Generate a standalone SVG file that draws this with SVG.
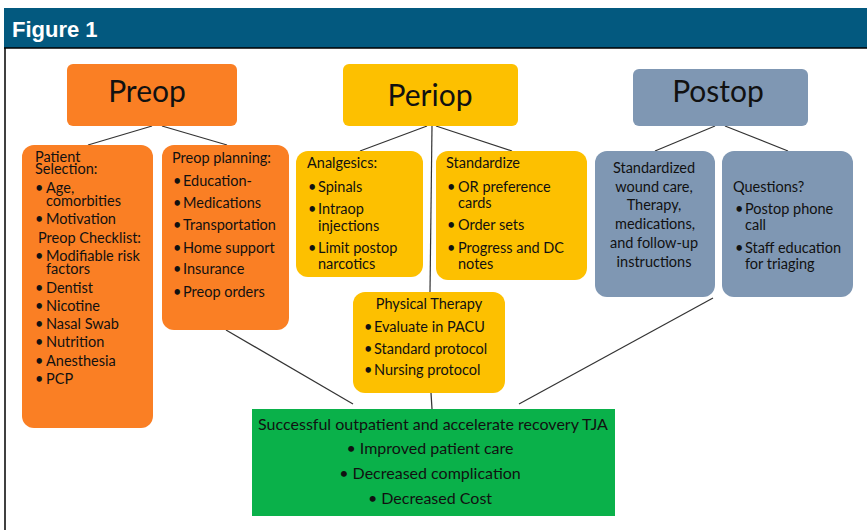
<svg xmlns="http://www.w3.org/2000/svg" width="867" height="530" viewBox="0 0 867 530">
<style>
.t{font-family:Lato,"Liberation Sans",sans-serif;font-size:14.5px;fill:#111}
.h{font-family:Lato,"Liberation Sans",sans-serif;font-size:30px;fill:#111;text-anchor:middle}
.c{text-anchor:middle}
.g{font-size:16px}
.or{fill:#FA7F24}
.ye{fill:#FDC000}
.bl{fill:#7F97B3}
.gr{fill:#0AB14A}
#conn line{stroke:#333;stroke-width:1.2}
</style>
<rect x="0" y="0" width="867" height="530" fill="#fff"/>
<rect x="4" y="8" width="863" height="40" fill="#03597F"/>
<line x1="4" y1="48" x2="867" y2="48" stroke="#000" stroke-width="1.5"/>
<line x1="5" y1="48" x2="5" y2="530" stroke="#000" stroke-width="1.5"/>
<text x="12" y="37" font-family="'Liberation Sans',Arial,sans-serif" font-weight="bold" font-size="22" fill="#fff">Figure 1</text>

<g id="conn">
<line x1="88" y1="145" x2="152" y2="126"/>
<line x1="162" y1="126" x2="227" y2="145"/>
<line x1="360" y1="151" x2="427" y2="126"/>
<line x1="436" y1="126" x2="512" y2="151"/>
<line x1="432" y1="126" x2="430" y2="292"/>
<line x1="431" y1="393" x2="432" y2="409"/>
<line x1="655" y1="151" x2="715" y2="126"/>
<line x1="725" y1="126" x2="788" y2="151"/>
<line x1="226" y1="330" x2="353" y2="404"/>
<line x1="713" y1="298" x2="519" y2="404"/>
</g>

<g id="preop">
<rect class="or" x="67" y="64" width="170" height="62" rx="6"/>
<text class="h" x="147" y="102">Preop</text>
</g>
<g id="periop">
<rect class="ye" x="343" y="64" width="175" height="62" rx="6"/>
<text class="h" x="430" y="106">Periop</text>
</g>
<g id="postop">
<rect class="bl" x="633" y="69" width="175" height="57" rx="6"/>
<text class="h" x="718" y="102">Postop</text>
</g>

<g id="patient-selection">
<rect class="or" x="22" y="145" width="131" height="283" rx="12"/>
<text class="t" x="35" y="162">Patient</text>
<text class="t" x="35" y="174">Selection:</text>
<text class="t"><tspan x="35" y="193">•</tspan><tspan x="46">Age,</tspan></text>
<text class="t" x="46" y="206">comorbities</text>
<text class="t"><tspan x="35" y="224">•</tspan><tspan x="46">Motivation</tspan></text>
<text class="t" x="38" y="243">Preop Checklist:</text>
<text class="t"><tspan x="35" y="261">•</tspan><tspan x="46">Modifiable risk</tspan></text>
<text class="t" x="46" y="274">factors</text>
<text class="t"><tspan x="35" y="293">•</tspan><tspan x="46">Dentist</tspan></text>
<text class="t"><tspan x="35" y="311">•</tspan><tspan x="46">Nicotine</tspan></text>
<text class="t"><tspan x="35" y="329">•</tspan><tspan x="46">Nasal Swab</tspan></text>
<text class="t"><tspan x="35" y="347">•</tspan><tspan x="46">Nutrition</tspan></text>
<text class="t"><tspan x="35" y="366">•</tspan><tspan x="46">Anesthesia</tspan></text>
<text class="t"><tspan x="35" y="384">•</tspan><tspan x="46">PCP</tspan></text>
</g>

<g id="preop-planning">
<rect class="or" x="162" y="145" width="127" height="185" rx="12"/>
<text class="t" x="172" y="163">Preop planning:</text>
<text class="t"><tspan x="173" y="186">•</tspan><tspan x="183">Education-</tspan></text>
<text class="t"><tspan x="173" y="208">•</tspan><tspan x="183">Medications</tspan></text>
<text class="t"><tspan x="173" y="230">•</tspan><tspan x="183">Transportation</tspan></text>
<text class="t"><tspan x="173" y="253">•</tspan><tspan x="183">Home support</tspan></text>
<text class="t"><tspan x="173" y="274">•</tspan><tspan x="183">Insurance</tspan></text>
<text class="t"><tspan x="173" y="297">•</tspan><tspan x="183">Preop orders</tspan></text>
</g>

<g id="analgesics">
<rect class="ye" x="296" y="151" width="127" height="126" rx="12"/>
<text class="t" x="307" y="168">Analgesics:</text>
<text class="t"><tspan x="308" y="192">•</tspan><tspan x="318">Spinals</tspan></text>
<text class="t"><tspan x="308" y="214">•</tspan><tspan x="318">Intraop</tspan></text>
<text class="t" x="318" y="231">injections</text>
<text class="t"><tspan x="308" y="253">•</tspan><tspan x="318">Limit postop</tspan></text>
<text class="t" x="318" y="269">narcotics</text>
</g>

<g id="standardize">
<rect class="ye" x="436" y="151" width="151" height="129" rx="12"/>
<text class="t" x="446" y="168">Standardize</text>
<text class="t"><tspan x="447" y="192">•</tspan><tspan x="458">OR preference</tspan></text>
<text class="t" x="458" y="208">cards</text>
<text class="t"><tspan x="447" y="230">•</tspan><tspan x="458">Order sets</tspan></text>
<text class="t"><tspan x="447" y="253">•</tspan><tspan x="458">Progress and DC</tspan></text>
<text class="t" x="458" y="269">notes</text>
</g>

<g id="physical-therapy">
<rect class="ye" x="353" y="292" width="152" height="101" rx="12"/>
<text class="t c" x="429" y="309">Physical Therapy</text>
<text class="t"><tspan x="364" y="332">•</tspan><tspan x="374">Evaluate in PACU</tspan></text>
<text class="t"><tspan x="364" y="354">•</tspan><tspan x="374">Standard protocol</tspan></text>
<text class="t"><tspan x="364" y="375">•</tspan><tspan x="374">Nursing protocol</tspan></text>
</g>

<g id="standardized-care">
<rect class="bl" x="595" y="151" width="120" height="146" rx="12"/>
<text class="t c" x="654" y="173">Standardized</text>
<text class="t c" x="654" y="192">wound care,</text>
<text class="t c" x="654" y="210">Therapy,</text>
<text class="t c" x="655" y="229">medications,</text>
<text class="t c" x="654" y="248">and follow-up</text>
<text class="t c" x="654" y="267">instructions</text>
</g>

<g id="questions">
<rect class="bl" x="722" y="151" width="131" height="146" rx="12"/>
<text class="t" x="733" y="192">Questions?</text>
<text class="t"><tspan x="735" y="214">•</tspan><tspan x="745">Postop phone</tspan></text>
<text class="t" x="745" y="230">call</text>
<text class="t"><tspan x="735" y="253">•</tspan><tspan x="745">Staff education</tspan></text>
<text class="t" x="745" y="269">for triaging</text>
</g>

<g id="outcome">
<rect class="gr" x="252" y="409" width="363" height="107"/>
<text class="t g c" x="433" y="430">Successful outpatient and accelerate recovery TJA</text>
<text class="t g c" x="430" y="454">• Improved patient care</text>
<text class="t g c" x="430" y="479">• Decreased complication</text>
<text class="t g c" x="430" y="504">• Decreased Cost</text>
</g>
</svg>
